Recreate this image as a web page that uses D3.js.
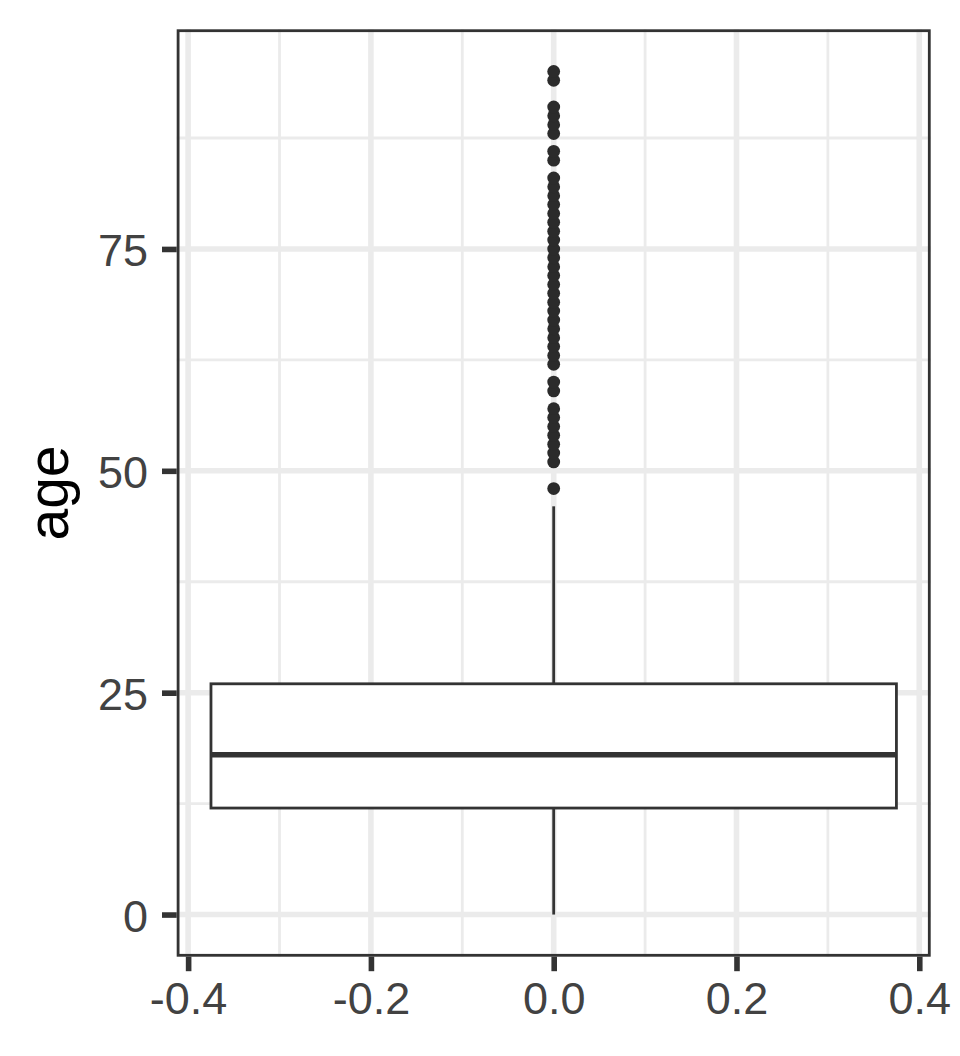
<!DOCTYPE html>
<html>
<head>
<meta charset="utf-8">
<script src="https://cdn.jsdelivr.net/npm/d3@7"></script>
<style>
  body { margin: 0; background: #fff; }
  svg { display: block; font-family: "Liberation Sans", Arial, sans-serif; }
</style>
</head>
<body>
<div id="chart"></div>
<script>
// tick values
const xTicks = [-0.4, -0.2, 0.0, 0.2, 0.4];
const xMinor = [-0.3, -0.1, 0.1, 0.3];
const yTicks = [0, 25, 50, 75];
const yMinor = [12.5, 37.5, 62.5, 87.5];

// box summary for "age" (whisker low, q1, median, q3, whisker high)
const statNames = ["lower", "q1", "median", "q3", "upper"];
const statValues = [0, 12, 18, 26, 46];

// outlying ages plotted as points
const outlierAges = [48, 51, 52, 53, 54, 55, 56, 57, 59, 60,
  62, 63, 64, 65, 66, 67, 68, 69, 70, 71, 72, 73, 74, 75, 76, 77, 78, 79,
  80, 81, 82, 83, 85, 86, 88, 89, 90, 91, 94, 95];

const stats = {};
statNames.forEach((n, i) => { stats[n] = statValues[i]; });

const width = 960, height = 1056;
const margins = { top: 29.3, right: 29.3, bottom: 99.3, left: 176.7 };
const innerWidth = width - margins.left - margins.right;
const innerHeight = height - margins.top - margins.bottom;

const boxHalf = 0.375;
const dataMax = d3.max(outlierAges);
const yPad = (dataMax - stats.lower) * 0.05;

const x = d3.scaleLinear()
  .domain([-boxHalf * 1.1, boxHalf * 1.1])
  .range([0, innerWidth]);

const y = d3.scaleLinear()
  .domain([stats.lower - yPad, dataMax + yPad])
  .range([innerHeight, 0]);

const dark = "#333333";
const gridCol = "#ebebeb";

const svg = d3.select("#chart")
  .append("svg")
  .attr("width", width)
  .attr("height", height);

const g = svg.append("g")
  .attr("transform", `translate(${margins.left},${margins.top})`);

g.append("rect")
  .attr("width", innerWidth)
  .attr("height", innerHeight)
  .attr("fill", "#fff");

// grid lines, minor first
const grid = g.append("g").attr("class", "grid");
grid.selectAll(".ymin").data(yMinor).join("line")
  .attr("x1", 0).attr("x2", innerWidth)
  .attr("y1", d => y(d)).attr("y2", d => y(d))
  .attr("stroke", gridCol).attr("stroke-width", 2.8);
grid.selectAll(".xmin").data(xMinor).join("line")
  .attr("class", "xmin")
  .attr("y1", 0).attr("y2", innerHeight)
  .attr("x1", d => x(d)).attr("x2", d => x(d))
  .attr("stroke", gridCol).attr("stroke-width", 2.8);
grid.selectAll(".ymaj").data(yTicks).join("line")
  .attr("class", "ymaj")
  .attr("x1", 0).attr("x2", innerWidth)
  .attr("y1", d => y(d)).attr("y2", d => y(d))
  .attr("stroke", gridCol).attr("stroke-width", 5.6);
grid.selectAll(".xmaj").data(xTicks).join("line")
  .attr("class", "xmaj")
  .attr("y1", 0).attr("y2", innerHeight)
  .attr("x1", d => x(d)).attr("x2", d => x(d))
  .attr("stroke", gridCol).attr("stroke-width", 5.6);

// boxplot
const box = g.append("g").attr("class", "box");
box.append("line")
  .attr("x1", x(0)).attr("x2", x(0))
  .attr("y1", y(stats.q3)).attr("y2", y(stats.upper))
  .attr("stroke", dark).attr("stroke-width", 2.8);
box.append("line")
  .attr("x1", x(0)).attr("x2", x(0))
  .attr("y1", y(stats.q1)).attr("y2", y(stats.lower))
  .attr("stroke", dark).attr("stroke-width", 2.8);
box.append("rect")
  .attr("x", x(-boxHalf))
  .attr("y", y(stats.q3))
  .attr("width", x(boxHalf) - x(-boxHalf))
  .attr("height", y(stats.q1) - y(stats.q3))
  .attr("fill", "#fff")
  .attr("stroke", dark).attr("stroke-width", 2.8);
box.append("line")
  .attr("x1", x(-boxHalf)).attr("x2", x(boxHalf))
  .attr("y1", y(stats.median)).attr("y2", y(stats.median))
  .attr("stroke", dark).attr("stroke-width", 5.6);

box.selectAll("circle").data(outlierAges).join("circle")
  .attr("cx", x(0))
  .attr("cy", d => y(d))
  .attr("r", 6.4)
  .attr("fill", "#2b2b2b");

// panel border (clipped half-width like ggplot)
g.append("rect")
  .attr("x", 1.4).attr("y", 1.4)
  .attr("width", innerWidth - 2.8)
  .attr("height", innerHeight - 2.8)
  .attr("fill", "none")
  .attr("stroke", dark).attr("stroke-width", 2.8);

// axes
const yAxisG = g.append("g")
  .call(d3.axisLeft(y).tickValues(yTicks).tickFormat(d3.format("d"))
    .tickSize(14.7).tickPadding(14));
const xAxisG = g.append("g")
  .attr("transform", `translate(0,${innerHeight})`)
  .call(d3.axisBottom(x).tickValues(xTicks).tickFormat(d => d3.format(".1f")(d).replace("−", "-"))
    .tickSize(14.5).tickPadding(11));

[yAxisG, xAxisG].forEach(a => {
  a.select(".domain").remove();
  a.selectAll(".tick line").attr("stroke", dark).attr("stroke-width", 5.6);
  a.selectAll(".tick text")
    .attr("fill", "#424242")
    .attr("font-size", "45px")
    .attr("font-family", "Liberation Sans, Arial, sans-serif");
});
yAxisG.selectAll(".tick text").attr("dy", "0.37em");

// y axis title
svg.append("text")
  .attr("transform", `translate(68,${margins.top + innerHeight / 2}) rotate(-90)`)
  .attr("text-anchor", "middle")
  .attr("font-size", "57px")
  .attr("fill", "#000")
  .text("age");
</script>
</body>
</html>
